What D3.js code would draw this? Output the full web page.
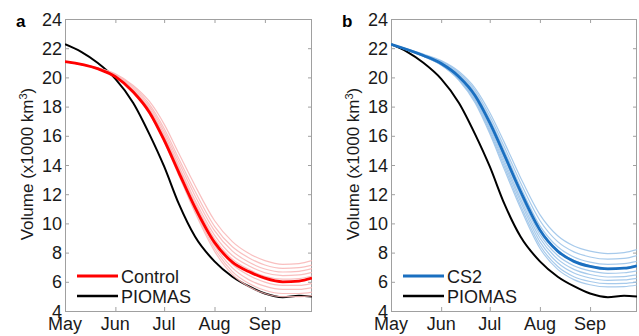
<!DOCTYPE html>
<html lang="en">
<head>
  <meta charset="UTF-8">
  <title>Sea ice volume</title>
  <script src="https://d3js.org/d3.v7.min.js"></script>
  <style>
    body { margin: 0; background: #fff; }
    svg { font-family: "Liberation Sans", Arial, Helvetica, sans-serif; }
    .frame { fill: none; stroke: #a0a0a0; stroke-width: 1; }
    .tick-label { font-size: 18px; fill: #1a1a1a; }
    .ylab { font-size: 17px; fill: #1a1a1a; }
    .panel-label { font-size: 17px; font-weight: bold; }
    .legend text { font-size: 18px; fill: #1a1a1a; }
  </style>
</head>
<body>
  <div id="chart"></div>

  <script>
    // day of season (0 = 1 May), month ticks
    const monthDays = [0, 31, 61, 92, 123];
    const monthNames = ["May", "Jun", "Jul", "Aug", "Sep"];
    const yTicks = [4, 6, 8, 10, 12, 14, 16, 18, 20, 22, 24];

    const obsDays = [0, 10, 20, 31, 42, 52, 61, 70, 80, 92, 103, 113, 123, 134, 144, 152];
    const piomas = [22.27, 21.75, 21.0, 19.9, 18.25, 16.1, 13.9, 11.35, 9.1, 7.4, 6.35, 5.7, 5.2, 4.95, 5.05, 5.0];

    const runDays = [0, 20, 31, 42, 52, 61, 70, 80, 92, 103, 113, 123, 134, 144, 152];

    // panel a: control ensemble
    const controlMean = [21.08, 20.6, 20.05, 19.0, 17.6, 15.7, 13.5, 11.1, 8.7, 7.35, 6.7, 6.25, 6.0, 6.05, 6.25];
    const controlMembers = [
      [21.08, 20.65, 20.25, 19.45, 18.35, 16.8, 14.8, 12.6, 10.2, 8.75, 7.95, 7.45, 7.2, 7.25, 7.45],
      [21.08, 20.65, 20.2, 19.35, 18.15, 16.5, 14.45, 12.2, 9.8, 8.4, 7.65, 7.15, 6.92, 6.97, 7.15],
      [21.08, 20.6, 20.15, 19.25, 18.0, 16.3, 14.2, 11.9, 9.5, 8.1, 7.35, 6.88, 6.67, 6.72, 6.9],
      [21.08, 20.6, 20.1, 19.15, 17.85, 16.1, 13.95, 11.6, 9.2, 7.8, 7.1, 6.62, 6.42, 6.47, 6.65],
      [21.08, 20.6, 20.1, 19.1, 17.75, 15.95, 13.8, 11.4, 8.95, 7.55, 6.85, 6.38, 6.18, 6.22, 6.4],
      [21.08, 20.6, 20.08, 19.05, 17.7, 15.85, 13.65, 11.2, 8.7, 7.2, 6.45, 5.98, 5.76, 5.76, 5.9],
      [21.08, 20.6, 20.08, 19.05, 17.7, 15.85, 13.6, 11.1, 8.5, 6.95, 6.15, 5.7, 5.48, 5.48, 5.6],
      [21.08, 20.6, 20.05, 19.0, 17.55, 15.65, 13.4, 10.9, 8.3, 6.7, 5.9, 5.42, 5.2, 5.2, 5.3],
      [21.08, 20.6, 20.05, 18.95, 17.5, 15.6, 13.3, 10.75, 8.1, 6.5, 5.68, 5.2, 4.98, 4.98, 5.05]
    ];

    // panel b: CS2-initialised ensemble
    const cs2Mean = [22.27, 21.5, 20.95, 20.05, 18.75, 16.9, 14.7, 12.2, 9.55, 8.1, 7.4, 7.05, 6.88, 6.93, 7.1];
    const cs2Members = [
      [22.27, 21.6, 21.15, 20.4, 19.25, 17.6, 15.55, 13.15, 10.6, 9.15, 8.45, 8.1, 7.93, 8.0, 8.2],
      [22.27, 21.55, 21.1, 20.3, 19.1, 17.35, 15.25, 12.8, 10.2, 8.75, 8.05, 7.7, 7.55, 7.6, 7.8],
      [22.27, 21.55, 21.05, 20.2, 18.95, 17.15, 15.0, 12.5, 9.85, 8.4, 7.7, 7.35, 7.2, 7.25, 7.4],
      [22.27, 21.5, 21.0, 20.1, 18.8, 16.95, 14.75, 12.25, 9.6, 8.15, 7.45, 7.1, 6.93, 6.98, 7.15],
      [22.27, 21.5, 20.95, 20.0, 18.65, 16.75, 14.5, 11.95, 9.25, 7.8, 7.1, 6.75, 6.58, 6.62, 6.75],
      [22.27, 21.5, 20.9, 19.95, 18.55, 16.6, 14.3, 11.7, 9.0, 7.55, 6.85, 6.5, 6.33, 6.36, 6.47],
      [22.27, 21.45, 20.9, 19.9, 18.45, 16.45, 14.1, 11.5, 8.75, 7.3, 6.6, 6.26, 6.1, 6.13, 6.24],
      [22.27, 21.45, 20.85, 19.85, 18.35, 16.3, 13.9, 11.25, 8.5, 7.05, 6.35, 6.02, 5.87, 5.89, 6.0],
      [22.27, 21.45, 20.85, 19.8, 18.25, 16.15, 13.7, 11.05, 8.3, 6.85, 6.15, 5.8, 5.65, 5.67, 5.78]
    ];

    const W = 639, H = 336;
    const svg = d3.select("#chart").append("svg")
      .attr("width", W).attr("height", H);

    const panels = [
      { id: "a", left: 65, right: 312, mean: controlMean, members: controlMembers,
        name: "Control", color: "#ff0000", light: "#f8b4b4" },
      { id: "b", left: 391, right: 637, mean: cs2Mean, members: cs2Members,
        name: "CS2", color: "#1a6fc0", light: "#98c1e8" }
    ];
    const plotTop = 19, plotBottom = 311;

    panels.forEach(p => {
      const x = d3.scaleLinear().domain([0, 152]).range([p.left, p.right]);
      const y = d3.scaleLinear().domain([4, 24]).range([plotBottom, plotTop]);
      const g = svg.append("g");

      g.append("clipPath").attr("id", "clip-" + p.id)
        .append("rect")
        .attr("x", p.left).attr("y", plotTop)
        .attr("width", p.right - p.left).attr("height", plotBottom - plotTop);

      // frame + inward ticks on all sides
      g.append("rect").attr("class", "frame")
        .attr("x", p.left + 0.5).attr("y", plotTop + 0.5)
        .attr("width", p.right - p.left - 1).attr("height", plotBottom - plotTop);

      const tl = 4;
      const sides = [
        [d3.axisBottom(x).tickValues(monthDays), `translate(0,${plotBottom})`],
        [d3.axisTop(x).tickValues(monthDays), `translate(0,${plotTop})`],
        [d3.axisLeft(y).tickValues(yTicks), `translate(${p.left},0)`],
        [d3.axisRight(y).tickValues(yTicks), `translate(${p.right},0)`]
      ];
      sides.forEach(([ax, tr]) => {
        g.append("g").attr("transform", tr)
          .call(ax.tickSize(-tl).tickFormat(""))
          .call(a => a.select(".domain").remove())
          .selectAll("line").attr("stroke", "#a0a0a0");
      });

      // tick labels
      g.selectAll(".ytl").data(yTicks).enter().append("text")
        .attr("class", "tick-label")
        .attr("x", p.left - 3)
        .attr("y", d => y(d) + 6.5)
        .attr("text-anchor", "end")
        .text(d => d);
      g.selectAll(".xtl").data(monthDays).enter().append("text")
        .attr("class", "tick-label")
        .attr("x", d => x(d))
        .attr("y", 330)
        .attr("text-anchor", "middle")
        .text((d, i) => monthNames[i]);

      // axis title
      const yl = g.append("text").attr("class", "ylab")
        .attr("transform", `translate(${p.left - 32},164) rotate(-90)`)
        .attr("text-anchor", "middle");
      yl.append("tspan").text("Volume (x1000 km");
      yl.append("tspan").attr("dy", -6).attr("font-size", "11px").text("3");
      yl.append("tspan").attr("dy", 6).text(")");

      g.append("text").attr("class", "panel-label")
        .attr("x", p.left - 49).attr("y", 27).text(p.id);

      // series
      const plot = g.append("g").attr("clip-path", `url(#clip-${p.id})`);
      const runLine = d3.line()
        .x((d, i) => x(runDays[i])).y(d => y(d))
        .curve(d3.curveMonotoneX);
      const obsLine = d3.line()
        .x((d, i) => x(obsDays[i])).y(d => y(d))
        .curve(d3.curveMonotoneX);

      plot.append("path").datum(piomas)
        .attr("d", obsLine)
        .attr("fill", "none").attr("stroke", "#000").attr("stroke-width", 2);

      plot.selectAll(".member").data(p.members).enter().append("path")
        .attr("class", "member")
        .attr("d", runLine)
        .attr("fill", "none").attr("stroke", p.light)
        .attr("stroke-opacity", 0.85).attr("stroke-width", 1.2);

      plot.append("path").datum(p.mean)
        .attr("d", runLine)
        .attr("fill", "none").attr("stroke", p.color).attr("stroke-width", 2.8);

      // legend
      const lg = g.append("g").attr("class", "legend");
      const lx = p.left + 12;
      const items = [{ name: p.name, color: p.color, w: 2.8 }, { name: "PIOMAS", color: "#000", w: 2.4 }];
      items.forEach((it, i) => {
        const ly = 276 + i * 20;
        lg.append("line")
          .attr("x1", lx).attr("x2", lx + 41)
          .attr("y1", ly).attr("y2", ly)
          .attr("stroke", it.color).attr("stroke-width", it.w);
        lg.append("text").attr("x", lx + 44).attr("y", ly + 6.5).text(it.name);
      });
    });
  </script>
</body>
</html>
